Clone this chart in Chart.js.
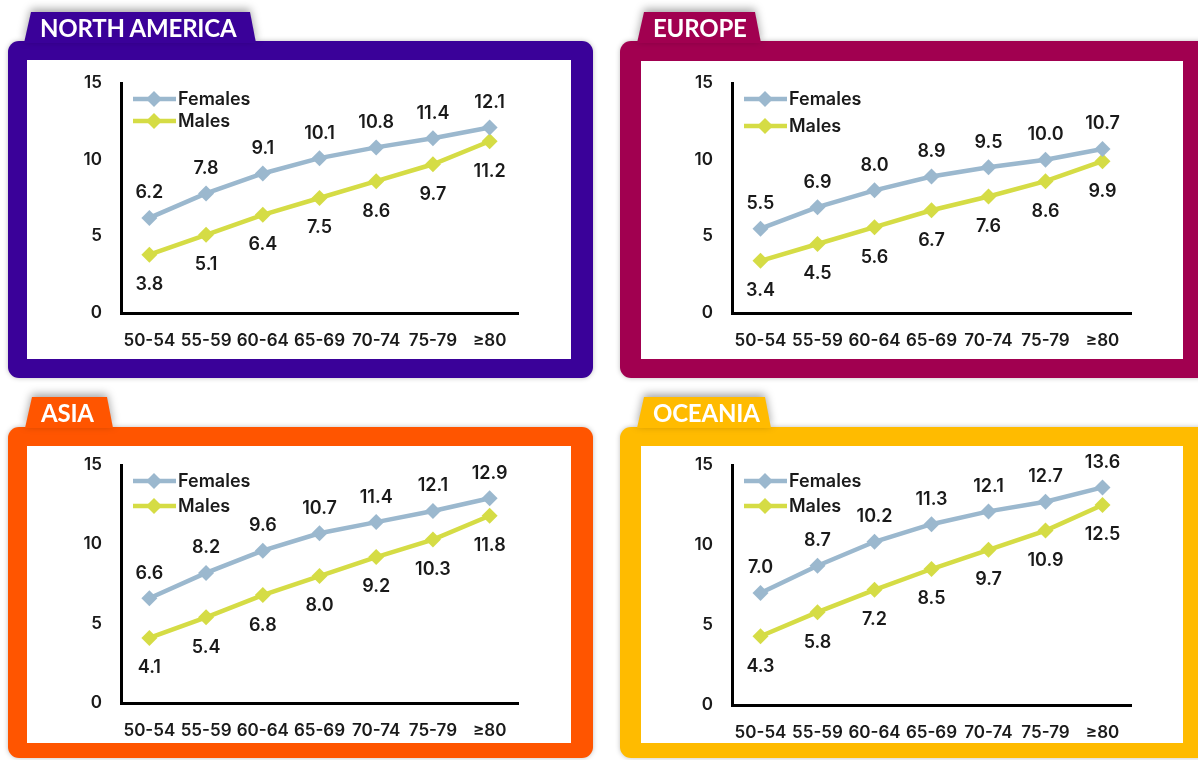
<!DOCTYPE html>
<html>
<head>
<meta charset="utf-8">
<script src="https://cdn.jsdelivr.net/npm/chart.js@4.4.1/dist/chart.umd.min.js"></script>
<style>
  html, body { margin: 0; padding: 0; background: #ffffff; }
  body { width: 1198px; height: 760px; overflow: hidden; position: relative; }
  .frame { position: absolute; border-radius: 11px; box-shadow: 0 0 5px rgba(0,0,0,0.25); }
  .white { position: absolute; background: #ffffff; }
  .white canvas { display: block; }
  .tabwrap { position: absolute; filter: drop-shadow(0 -3px 4px rgba(0,0,0,0.35)); }
  .tab { width: 100%; height: 100%; color: #ffffff; font-family: 'Lato', 'Open Sans', sans-serif; font-weight: 700; font-size: 24px; line-height: 32px; box-sizing: border-box; padding-left: 16px; white-space: nowrap; letter-spacing: -0.2px; }
</style>
</head>
<body>
<script>
// ---------- data ----------
const categories = ['50-54', '55-59', '60-64', '65-69', '70-74', '75-79', '\u226580'];
const seriesNames = ['Females', 'Males'];
const regionNames = ['NORTH AMERICA', 'EUROPE', 'ASIA', 'OCEANIA'];
const yTicks = [0, 5, 10, 15];

const naFemales = [6.2, 7.8, 9.1, 10.1, 10.8, 11.4, 12.1];
const naMales = [3.8, 5.1, 6.4, 7.5, 8.6, 9.7, 11.2];
const euFemales = [5.5, 6.9, 8.0, 8.9, 9.5, 10.0, 10.7];
const euMales = [3.4, 4.5, 5.6, 6.7, 7.6, 8.6, 9.9];
const asiaFemales = [6.6, 8.2, 9.6, 10.7, 11.4, 12.1, 12.9];
const asiaMales = [4.1, 5.4, 6.8, 8.0, 9.2, 10.3, 11.8];
const ocFemales = [7.0, 8.7, 10.2, 11.3, 12.1, 12.7, 13.6];
const ocMales = [4.3, 5.8, 7.2, 8.5, 9.7, 10.9, 12.5];

// ---------- styling / layout ----------
const femaleColor = '#9bb8ce';
const maleColor = '#d5dc45';
const textColor = '#1a1a1a';
const fontFamily = "'Inter', 'Roboto', sans-serif";
const fontWeight = '600';

const panels = [
  { name: regionNames[0], color: '#3a0199', f: naFemales, m: naMales,
    frame: [8, 41, 585, 337], white: [27, 60, 544, 299], tab: [24, 12, 232, 31],
    pad: { left: 94, right: 53, top: 23, bottom: 46 }, xPad: 18, legendGap: 22 },
  { name: regionNames[1], color: '#a10050', f: euFemales, m: euMales,
    frame: [620, 41, 600, 337], white: [641, 61, 542, 298], tab: [637, 12, 124, 31],
    pad: { left: 91, right: 52, top: 22, bottom: 46 }, xPad: 18, legendGap: 27 },
  { name: regionNames[2], color: '#ff5500', f: asiaFemales, m: asiaMales,
    frame: [8, 427, 585, 331], white: [27, 446, 544, 297], tab: [25, 397, 88, 31],
    pad: { left: 94, right: 53, top: 19, bottom: 40 }, xPad: 18, legendGap: 25 },
  { name: regionNames[3], color: '#ffbb00', f: ocFemales, m: ocMales,
    frame: [620, 427, 600, 331], white: [641, 446, 542, 297], tab: [637, 397, 134, 31],
    pad: { left: 91, right: 52, top: 19, bottom: 38 }, xPad: 18, legendGap: 25 }
];

function px(el, r) {
  el.style.left = r[0] + 'px'; el.style.top = r[1] + 'px';
  el.style.width = r[2] + 'px'; el.style.height = r[3] + 'px';
}

function diamond(ctx, x, y, r, color) {
  ctx.save();
  ctx.fillStyle = color;
  ctx.beginPath();
  ctx.moveTo(x, y - r); ctx.lineTo(x + r, y); ctx.lineTo(x, y + r); ctx.lineTo(x - r, y);
  ctx.closePath(); ctx.fill();
  ctx.restore();
}

const valueLabels = {
  id: 'valueLabels',
  afterDatasetsDraw(chart) {
    const ctx = chart.ctx;
    ctx.save();
    ctx.font = fontWeight + ' 18px ' + fontFamily;
    ctx.fillStyle = textColor;
    ctx.textAlign = 'center';
    ctx.textBaseline = 'middle';
    chart.data.datasets.forEach((ds, di) => {
      const meta = chart.getDatasetMeta(di);
      meta.data.forEach((pt, i) => {
        const off = di === 0 ? -25 : 30;
        ctx.fillText(ds.data[i].toFixed(1), pt.x, pt.y + off);
      });
    });
    ctx.restore();
  }
};

const innerLegend = {
  id: 'innerLegend',
  afterDraw(chart, args, opts) {
    const ctx = chart.ctx;
    const a = chart.chartArea;
    const x0 = a.left + 12;
    ctx.save();
    ctx.font = fontWeight + ' 18px ' + fontFamily;
    ctx.textAlign = 'left';
    ctx.textBaseline = 'middle';
    chart.data.datasets.forEach((ds, di) => {
      const y = a.top + 16 + di * opts.gap;
      ctx.strokeStyle = ds.borderColor;
      ctx.lineWidth = 4.5;
      ctx.beginPath(); ctx.moveTo(x0, y); ctx.lineTo(x0 + 43, y); ctx.stroke();
      diamond(ctx, x0 + 21, y, 8, ds.borderColor);
      ctx.fillStyle = textColor;
      ctx.fillText(ds.label, x0 + 45, y + 1);
    });
    ctx.restore();
  }
};

function build() {
  panels.forEach((p) => {
    const frame = document.createElement('div');
    frame.className = 'frame';
    frame.style.background = p.color;
    px(frame, p.frame);
    document.body.appendChild(frame);

    const tw = document.createElement('div');
    tw.className = 'tabwrap';
    px(tw, p.tab);
    const tab = document.createElement('div');
    tab.className = 'tab';
    tab.style.background = p.color;
    tab.style.clipPath = 'polygon(7px 0, calc(100% - 6px) 0, 100% 100%, 0 100%)';
    tab.textContent = p.name;
    tw.appendChild(tab);
    document.body.appendChild(tw);

    const white = document.createElement('div');
    white.className = 'white';
    px(white, p.white);
    document.body.appendChild(white);

    const canvas = document.createElement('canvas');
    canvas.width = p.white[2];
    canvas.height = p.white[3];
    canvas.style.width = p.white[2] + 'px';
    canvas.style.height = p.white[3] + 'px';
    white.appendChild(canvas);

    new Chart(canvas, {
      type: 'line',
      data: {
        labels: categories,
        datasets: [
          { label: seriesNames[0], data: p.f, borderColor: femaleColor, backgroundColor: femaleColor,
            borderWidth: 4.5, pointStyle: 'rectRot', pointRadius: 8, pointBorderWidth: 0, tension: 0 },
          { label: seriesNames[1], data: p.m, borderColor: maleColor, backgroundColor: maleColor,
            borderWidth: 4.5, pointStyle: 'rectRot', pointRadius: 8, pointBorderWidth: 0, tension: 0 }
        ]
      },
      options: {
        responsive: false,
        animation: false,
        layout: { padding: { top: p.pad.top, right: p.pad.right, left: 0, bottom: 0 } },
        plugins: {
          legend: { display: false },
          tooltip: { enabled: false },
          innerLegend: { gap: p.legendGap }
        },
        scales: {
          x: {
            offset: true,
            grid: { display: true, color: 'rgba(0,0,0,0)', drawTicks: false },
            border: { display: true, color: '#000000', width: 3 },
            ticks: { color: textColor, font: { family: fontFamily, size: 17, weight: fontWeight }, padding: p.xPad, maxRotation: 0, autoSkip: false },
            afterFit(s) { s.height = p.pad.bottom; s.paddingLeft = 0; s.paddingRight = 0; }
          },
          y: {
            min: 0, max: 15,
            afterBuildTicks(s) { s.ticks = yTicks.map(v => ({ value: v })); },
            grid: { display: true, color: 'rgba(0,0,0,0)', drawTicks: false },
            border: { display: true, color: '#000000', width: 3 },
            ticks: { color: textColor, font: { family: fontFamily, size: 17, weight: fontWeight }, padding: 19 },
            afterFit(s) { s.width = p.pad.left; s.paddingTop = 0; s.paddingBottom = 0; }
          }
        }
      },
      plugins: [valueLabels, innerLegend]
    });
  });
}

if (document.fonts && document.fonts.load) {
  Promise.all([
    document.fonts.load("600 18px Inter"),
    document.fonts.load("700 24px Lato")
  ]).then(build, build);
} else {
  build();
}
</script>
</body>
</html>
